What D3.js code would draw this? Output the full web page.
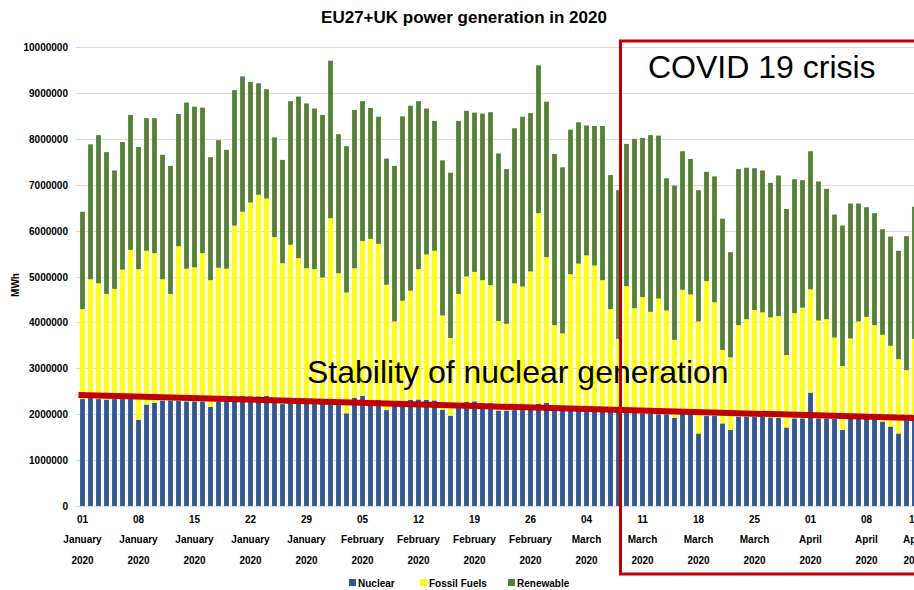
<!DOCTYPE html>
<meta charset="utf-8">
<style>
body { margin: 0; background: #fff; }
.ax { font-family: Arial, "Liberation Sans", sans-serif; font-weight: bold; font-size: 10px; fill: #000; }
</style>
<svg width="914" height="590"></svg>
<script src="https://d3js.org/d3.v7.min.js"></script>
<script>
// daily values, thousand MWh, 1 Jan 2020 .. 14 Apr 2020
var nuclear = [2330,2360,2330,2320,2330,2330,2330,1880,2210,2250,2300,2300,2290,2280,2280,2280,2160,2280,2300,2320,
  2400,2390,2390,2400,2250,2220,2250,2260,2240,2220,2240,2240,2230,2020,2360,2400,2310,2310,2090,2240,
  2220,2310,2320,2310,2300,2100,1970,2200,2270,2280,2240,2240,2080,2080,2090,2090,2100,2230,2250,2100,
  2080,2150,2160,2120,2100,2090,2060,2060,2070,2060,2020,2020,2000,2000,1920,2010,2010,1580,1960,1960,
  1800,1660,1950,1950,1950,1940,1930,1920,1710,1910,1910,2470,1910,1910,1900,1660,1900,2000,2000,1900,
  1840,1730,1580,1870,1900];
var fossil = [1960,2580,2520,2300,2400,2820,3250,3280,3350,3260,2640,2320,3370,2890,2920,3230,2760,2910,2870,3790,
  4010,4220,4390,4300,3610,3070,3440,3140,2940,2940,2740,4030,2840,2630,2820,3370,3510,3400,2730,1780,
  2250,2380,2840,3170,3260,2050,1690,2420,2730,2820,2680,2570,1950,1890,2760,2690,3010,4150,3170,1840,
  1680,2900,3120,3340,3140,2830,2230,1580,2720,2250,2530,2210,2520,2260,1700,2700,2600,2440,2940,2480,
  1600,1580,1990,2120,2320,2280,2180,2220,1580,2290,2410,2250,2130,2160,1770,1390,1750,2020,2120,2040,
  1890,1760,1620,1090,1740];
var renewable = [2120,2940,3230,3090,2580,2780,2940,2660,2890,2940,2710,2790,2880,3620,3500,3170,2680,2780,2590,2950,
  2950,2630,2430,2380,2170,2250,3130,3520,3590,3500,3540,3430,3030,3190,3450,3050,2850,2770,2750,3390,
  4020,4030,3660,3180,2830,3380,3600,3770,3610,3470,3630,3770,3650,3370,3380,3700,3450,3220,3390,3730,
  3620,3150,3080,2830,3040,3360,2920,3240,3100,3690,3470,3850,3550,2880,3360,3020,2950,2860,2380,2740,
  2860,2290,3400,3300,3090,3090,2930,3060,3180,2920,2780,3010,3030,2840,2680,3060,2940,2570,2390,2440,
  2300,2380,2360,2920,2880];

var seriesKeys = ["Nuclear", "Fossil Fuels", "Renewable"];
var seriesColors = ["#2f5597", "#ffff00", "#548235"];

var tickDates = ["2020-01-01","2020-01-08","2020-01-15","2020-01-22","2020-01-29","2020-02-05","2020-02-12","2020-02-19",
  "2020-02-26","2020-03-04","2020-03-11","2020-03-18","2020-03-25","2020-04-01","2020-04-08","2020-04-14"];
var tickDays = ["01","08","15","22","29","05","12","19","26","04","11","18","25","01","08","14"];
var tickMonths = ["January","January","January","January","January","February","February","February","February",
  "March","March","March","March","April","April","April"];
var tickYears = ["2020","2020","2020","2020","2020","2020","2020","2020","2020","2020","2020","2020","2020","2020","2020","2020"];

// linear trend of nuclear generation (MWh)
var trendStart = 2420000, trendEnd = 1915000;

var svg = d3.select("svg"),
    width = +svg.attr("width"),
    height = +svg.attr("height");

var parse = d3.timeParse("%Y-%m-%d");
var days = d3.timeDay.range(new Date(2020, 0, 1), new Date(2020, 0, 1 + nuclear.length));

var data = days.map(function(d, i) {
  return {date: d, "Nuclear": nuclear[i] * 1000, "Fossil Fuels": fossil[i] * 1000, "Renewable": renewable[i] * 1000};
});

var x = d3.scaleBand()
    .domain(days)
    .range([78.5, 78.5 + 8 * days.length])
    .paddingInner(0.4)
    .paddingOuter(0.2);

var y = d3.scaleLinear()
    .domain([0, 10000000])
    .range([506, 47]);

var color = d3.scaleOrdinal().domain(seriesKeys).range(seriesColors);

// title
svg.append("text")
    .attr("x", 464)
    .attr("y", 23)
    .attr("text-anchor", "middle")
    .attr("font-family", "Arial, 'Liberation Sans', sans-serif")
    .attr("font-weight", "bold")
    .attr("font-size", 17)
    .text("EU27+UK power generation in 2020");

// gridlines + y labels
var yTicks = y.ticks(10);
svg.append("g").selectAll("line")
  .data(yTicks)
  .enter().append("line")
    .attr("x1", 76)
    .attr("x2", width)
    .attr("y1", d => Math.round(y(d)) + 0.5)
    .attr("y2", d => Math.round(y(d)) + 0.5)
    .attr("stroke", "#d9d9d9")
    .attr("stroke-width", 1);

svg.append("g").selectAll("text")
  .data(yTicks)
  .enter().append("text")
    .attr("class", "ax")
    .attr("x", 68)
    .attr("y", d => y(d) + 4)
    .attr("text-anchor", "end")
    .attr("font-size", 9.5)
    .text(d => d3.format("d")(d));

svg.append("text")
    .attr("class", "ax")
    .attr("transform", "translate(19,285) rotate(-90)")
    .attr("text-anchor", "middle")
    .attr("font-size", 11)
    .text("MWh");

// stacked bars
var stack = d3.stack().keys(seriesKeys)(data);

svg.append("g").selectAll("g")
  .data(stack)
  .enter().append("g")
    .attr("fill", s => color(s.key))
  .selectAll("rect")
  .data(s => s)
  .enter().append("rect")
    .attr("x", d => x(d.data.date))
    .attr("width", x.bandwidth())
    .attr("y", d => y(d[1]))
    .attr("height", d => y(d[0]) - y(d[1]));

// x labels, three lines
var xt = svg.append("g").selectAll("g")
  .data(tickDates)
  .enter().append("g")
    .attr("transform", d => "translate(" + (x(parse(d)) + x.bandwidth() / 2) + ",0)");
xt.append("text").attr("class", "ax").attr("y", 523).attr("text-anchor", "middle").attr("font-size", 9.5)
    .text((d, i) => tickDays[i]);
xt.append("text").attr("class", "ax").attr("y", 543).attr("text-anchor", "middle").attr("font-size", 9)
    .text((d, i) => tickMonths[i]);
xt.append("text").attr("class", "ax").attr("y", 564).attr("text-anchor", "middle").attr("font-size", 9.5)
    .text((d, i) => tickYears[i]);

// nuclear trend line
var firstX = x.range()[0], lastX = x(days[days.length - 1]) + x.bandwidth() / 2;
svg.append("line")
    .attr("x1", firstX)
    .attr("x2", lastX)
    .attr("y1", y(trendStart))
    .attr("y2", y(trendEnd))
    .attr("stroke", "#c00000")
    .attr("stroke-width", 6);

svg.append("text")
    .attr("x", 307)
    .attr("y", 383)
    .attr("font-family", "Arial, 'Liberation Sans', sans-serif")
    .attr("font-size", 32)
    .text("Stability of nuclear generation");

// covid box
svg.append("rect")
    .attr("x", 620.5)
    .attr("y", 41)
    .attr("width", 400)
    .attr("height", 533)
    .attr("fill", "none")
    .attr("stroke", "#c00000")
    .attr("stroke-width", 3);

svg.append("text")
    .attr("x", 648)
    .attr("y", 78)
    .attr("font-family", "Arial, 'Liberation Sans', sans-serif")
    .attr("font-size", 32)
    .text("COVID 19 crisis");

// legend
var legendX = [349, 420, 508];
var legend = svg.append("g").selectAll("g")
  .data(seriesKeys)
  .enter().append("g")
    .attr("transform", (d, i) => "translate(" + legendX[i] + ",579)");
legend.append("rect")
    .attr("width", 7)
    .attr("height", 7)
    .attr("fill", d => color(d));
legend.append("text")
    .attr("class", "ax")
    .attr("x", 9)
    .attr("y", 8)
    .attr("font-size", 10.5)
    .text(d => d);
</script>
